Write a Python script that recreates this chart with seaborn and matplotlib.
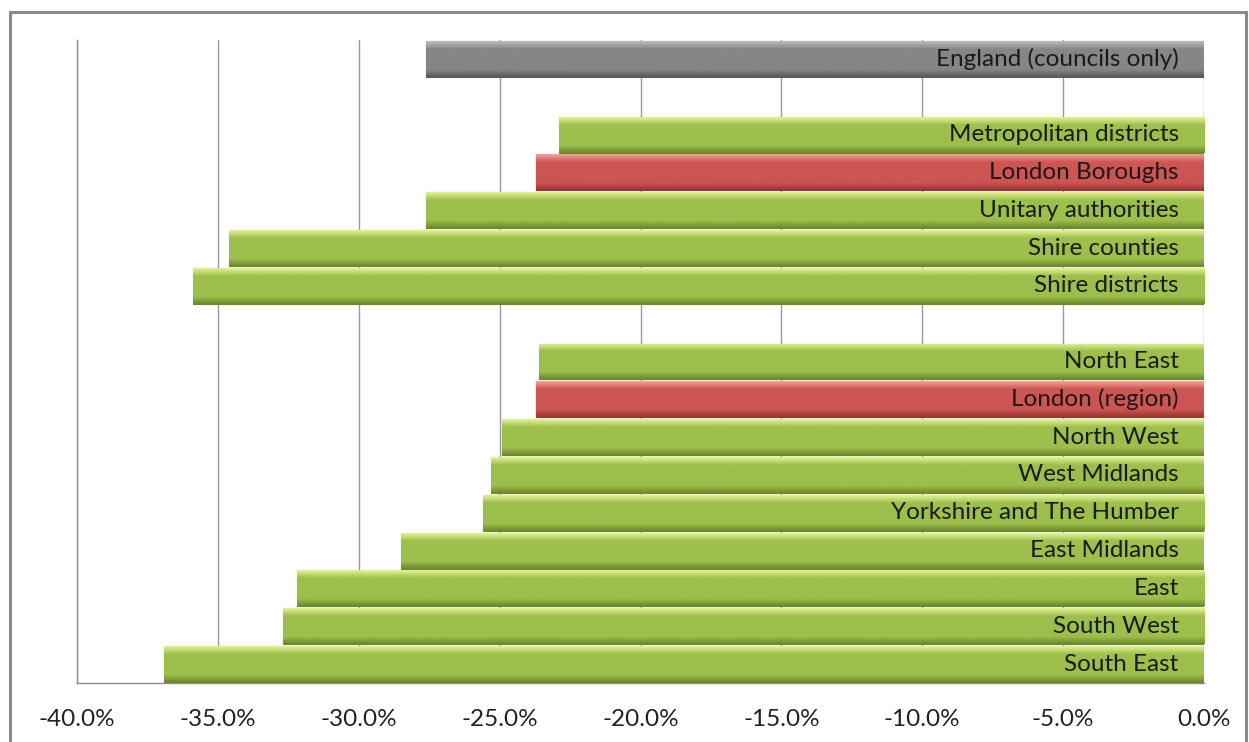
import numpy as np
import pandas as pd
import matplotlib
matplotlib.use("Agg")
import matplotlib.pyplot as plt
from matplotlib.patches import Rectangle
import seaborn as sns

# ---- data ----
categories = ["England (councils only)", "Metropolitan districts", "London Boroughs",
              "Unitary authorities", "Shire counties", "Shire districts",
              "North East", "London (region)", "North West", "West Midlands",
              "Yorkshire and The Humber", "East Midlands", "East", "South West", "South East"]
values = [-27.6, -22.9, -23.7, -27.6, -34.6, -35.9,
          -23.6, -23.7, -24.9, -25.3, -25.6, -28.5, -32.2, -32.7, -36.9]
groups = ["total", "type", "london", "type", "type", "type",
          "region", "london", "region", "region", "region", "region", "region", "region", "region"]
slot_order = ["England (councils only)", "gap1", "Metropolitan districts", "London Boroughs",
              "Unitary authorities", "Shire counties", "Shire districts", "gap2",
              "North East", "London (region)", "North West", "West Midlands",
              "Yorkshire and The Humber", "East Midlands", "East", "South West", "South East"]
tick_values = [-40, -35, -30, -25, -20, -15, -10, -5, 0]
tick_labels = ["-40.0%", "-35.0%", "-30.0%", "-25.0%", "-20.0%", "-15.0%", "-10.0%", "-5.0%", "0.0%"]

palette = {"total": "#808080", "type": "#9bbb59", "region": "#9bbb59", "london": "#c9504c"}
grad = {"#808080": ("#bdbdbd", "#868686", "#5a5a5a"),
        "#9bbb59": ("#e2f394", "#9dbf4b", "#6c8a2a"),
        "#c9504c": ("#f5a19b", "#cd5552", "#993633")}

df = pd.DataFrame({"cat": categories, "val": values, "grp": groups})

sns.set_theme(style="white")
plt.rcParams["font.family"] = ["Lato", "DejaVu Sans"]

fig = plt.figure(figsize=(12.49, 7.42), dpi=100)
ax = fig.add_axes([77/1249, 59/742, (1204-77)/1249, (683-40)/742])

sns.barplot(data=df, x="val", y="cat", hue="grp", palette=palette, order=slot_order,
            hue_order=["total", "type", "region", "london"], dodge=False, width=0.95,
            orient="h", legend=False, ax=ax, zorder=3, saturation=1)

# gradient shading clipped to each bar
for p in list(ax.patches):
    w = p.get_width()
    if not np.isfinite(w) or w == 0:
        continue
    fc = matplotlib.colors.to_hex(p.get_facecolor())
    stops = grad.get(fc, (fc, fc, fc))
    cmap = matplotlib.colors.LinearSegmentedColormap.from_list(
        "g", [(0, stops[0]), (0.22, stops[1]), (0.8, stops[1]), (1, stops[2])])
    x0, y0 = p.get_x(), p.get_y()
    h = p.get_height()
    img = np.linspace(0, 1, 64).reshape(-1, 1)
    im = ax.imshow(img, cmap=cmap, aspect="auto",
                   extent=(x0, x0 + w, y0 + h, y0), zorder=3.5, interpolation="bicubic")
    im.set_clip_path(p)
    p.set_edgecolor(stops[2])
    p.set_linewidth(0.8)

# labels inside bars
for cat, v in zip(categories, values):
    yi = slot_order.index(cat)
    ax.text(-0.9, yi, cat, ha="right", va="center", fontsize=17.5, color="#1a1a1a", zorder=5)

ax.set_xlim(-40, 0)
ax.set_ylim(len(slot_order) - 0.5, -0.5)
ax.set_xticks(tick_values)
ax.set_xticklabels(tick_labels, fontsize=17.5, color="#222222")
ax.set_yticks([])
ax.set_xlabel("")
ax.set_ylabel("")
ax.tick_params(axis="x", length=0, pad=19)
ax.grid(axis="x", color="#9a9a9a", linewidth=1, zorder=0)
ax.set_axisbelow(True)
for s in ["top", "right"]:
    ax.spines[s].set_visible(False)
for s in ["left", "bottom"]:
    ax.spines[s].set_color("#8c8c8c")
    ax.spines[s].set_linewidth(1)

# outer chart frame
fig.patches.append(Rectangle((10/1249, -0.02), 1236/1249, 1 - 12/742 + 0.02,
                             transform=fig.transFigure, fill=False,
                             edgecolor="#8a8a8a", linewidth=2.2))

fig.savefig("out.png", dpi=100)
